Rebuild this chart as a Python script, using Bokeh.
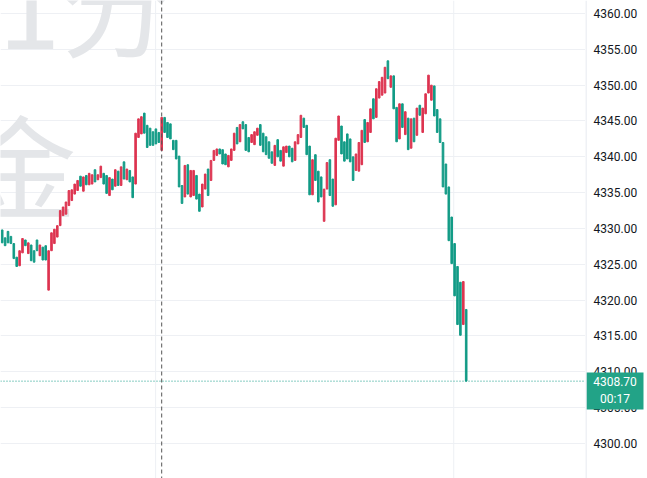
from bokeh.plotting import figure
from bokeh.layouts import row
from bokeh.models import Span, Label, Range1d, FixedTicker, ColumnDataSource
from bokeh.core.properties import value
from bokeh.embed import file_html
from bokeh.resources import INLINE

# ---- data (1-minute candles) ----
opens = [4329.8, 4328.7, 4329.6, 4328.9, 4327.9, 4326.0, 4324.8, 4326.6, 4328.4, 4326.5,
         4327.7, 4326.9, 4328.4, 4326.2, 4327.4, 4327.6, 4321.4, 4326.9, 4327.9, 4328.8,
         4330.4, 4331.8, 4332.0, 4333.2, 4333.9, 4334.8, 4335.3, 4337.3, 4335.2, 4337.4,
         4336.1, 4336.2, 4338.2, 4336.8, 4337.1, 4337.7, 4337.4, 4334.6, 4336.9, 4335.9,
         4338.0, 4336.0, 4339.3, 4336.8, 4338.1, 4337.2, 4336.2, 4342.7, 4343.2, 4346.1,
         4344.4, 4344.0, 4343.5, 4343.9, 4343.4, 4340.9, 4345.5, 4344.8, 4344.6, 4342.3,
         4342.3, 4340.1, 4336.0, 4334.4, 4338.9, 4334.4, 4334.6, 4337.4, 4334.8, 4333.0,
         4335.5, 4338.3, 4336.7, 4339.5, 4340.2, 4341.1, 4341.0, 4340.4, 4338.6, 4339.5,
         4340.9, 4344.1, 4342.1, 4344.9, 4344.5, 4342.7, 4342.0, 4341.7, 4343.0, 4344.5,
         4343.3, 4342.8, 4342.1, 4340.7, 4338.8, 4342.4, 4340.9, 4338.7, 4340.6, 4341.5,
         4341.2, 4339.5, 4341.8, 4342.7, 4345.4, 4344.4, 4341.5, 4334.7, 4340.3, 4338.0,
         4337.2, 4331.0, 4335.5, 4339.6, 4336.9, 4333.3, 4342.3, 4344.3, 4342.1, 4343.2,
         4342.5, 4340.0, 4338.1, 4338.0, 4338.9, 4345.2, 4342.1, 4343.4, 4348.1, 4345.5,
         4348.2, 4348.6, 4348.9, 4353.4, 4349.7, 4351.3, 4346.9, 4342.5, 4347.4, 4343.1,
         4345.4, 4341.2, 4345.4, 4343.0, 4347.2, 4343.4, 4346.0, 4348.9, 4347.9, 4349.9,
         4346.6, 4345.3, 4342.0, 4339.0, 4335.8, 4331.6, 4327.9, 4324.7, 4322.5, 4316.6,
         4318.7]
closes = [4328.0, 4327.6, 4328.0, 4327.9, 4325.8, 4324.7, 4326.9, 4328.6, 4327.6, 4328.0,
          4325.5, 4325.3, 4326.9, 4327.7, 4325.6, 4325.6, 4326.9, 4329.4, 4329.9, 4330.4,
          4332.5, 4333.0, 4333.7, 4335.3, 4335.4, 4336.2, 4336.7, 4335.9, 4337.2, 4336.1,
          4337.7, 4337.5, 4336.5, 4337.5, 4338.7, 4336.2, 4334.9, 4337.1, 4335.4, 4338.2,
          4336.0, 4338.6, 4336.9, 4338.3, 4336.5, 4334.3, 4343.3, 4345.3, 4345.6, 4343.3,
          4341.3, 4341.6, 4341.6, 4341.8, 4342.0, 4345.5, 4343.4, 4342.7, 4342.5, 4341.0,
          4339.7, 4335.8, 4333.5, 4338.8, 4334.8, 4338.1, 4338.1, 4334.1, 4332.4, 4336.2,
          4337.6, 4334.6, 4339.5, 4340.9, 4341.1, 4340.4, 4339.0, 4338.9, 4340.2, 4341.1,
          4343.3, 4341.8, 4344.5, 4343.9, 4340.9, 4340.7, 4343.1, 4343.5, 4344.0, 4341.6,
          4340.7, 4340.3, 4339.8, 4339.1, 4341.6, 4340.0, 4339.4, 4341.4, 4341.5, 4340.0,
          4339.3, 4342.1, 4343.1, 4345.8, 4344.1, 4340.3, 4334.7, 4339.6, 4336.7, 4333.7,
          4334.4, 4335.5, 4339.2, 4334.6, 4333.1, 4342.6, 4345.7, 4340.4, 4339.4, 4339.7,
          4339.3, 4336.7, 4340.4, 4342.0, 4343.7, 4342.0, 4344.8, 4346.7, 4345.3, 4349.5,
          4350.5, 4351.1, 4352.5, 4350.9, 4351.3, 4346.7, 4342.1, 4347.4, 4344.1, 4346.3,
          4341.0, 4345.3, 4342.1, 4346.8, 4345.8, 4346.8, 4348.8, 4351.4, 4350.0, 4345.7,
          4343.4, 4342.0, 4335.8, 4334.8, 4328.3, 4325.1, 4320.6, 4316.6, 4315.1, 4322.6,
          4308.7]
price_ticks = [4300, 4305, 4310, 4315, 4320, 4325, 4330, 4335, 4340, 4345, 4350, 4355, 4360]
price_labels = [f"{t:.2f}" for t in price_ticks]
session_break = 55          # candle index where the dashed separator sits
countdown = "00:17"
watermark_top = "1分"
watermark_mid = "金"

RED = "#dd3450"
TEAL = "#129b86"
BOX = "#22a387"
GRID = "#eef0f4"
WM = "#e4e6e9"
FONT = "Roboto"

idx = list(range(len(opens)))
src = ColumnDataSource(dict(
    x=idx,
    top=[max(o, c) for o, c in zip(opens, closes)],
    bottom=[min(o, c) for o, c in zip(opens, closes)],
    color=[RED if c > o else TEAL for o, c in zip(opens, closes)],
))
last_price = closes[-1]

H = 478
MAIN_W, SCALE_W = 585, 62
PX_PER_BAR = 2.9
x0 = -0.586
yr = Range1d(4295.116, 4361.814)
PX = (yr.end - yr.start) / H          # price units per screen pixel

p = figure(width=MAIN_W, height=H, output_backend="svg", toolbar_location=None,
           x_range=Range1d(x0, x0 + MAIN_W / PX_PER_BAR), y_range=yr,
           x_axis_location=None, y_axis_location=None,
           min_border_left=0, min_border_top=0, min_border_bottom=0, min_border_right=0)
p.outline_line_color = None
p.background_fill_color = "white"
p.border_fill_color = "white"

# watermark
p.add_layout(Label(x=172, y=479, x_units="screen", y_units="screen", text=watermark_top,
                   text_align="right", text_baseline="middle", text_font="Noto Sans CJK SC",
                   text_font_size="112px", text_color=WM, level="underlay"))
p.add_layout(Label(x=20, y=317, x_units="screen", y_units="screen", text=watermark_mid,
                   text_align="center", text_baseline="middle", text_font="Noto Sans CJK SC",
                   text_font_size="112px", text_color=WM, level="underlay"))

# grid
p.ygrid.ticker = FixedTicker(ticks=price_ticks)
p.ygrid.grid_line_color = GRID
p.xgrid.visible = False
for loc in (52.9, 155.7):
    p.add_layout(Span(location=loc, dimension="height", line_color=GRID, line_width=1, level="underlay"))

p.add_layout(Span(location=session_break, dimension="height", line_color="#555555",
                  line_dash="4 3", line_width=1))

p.vbar(x="x", top="top", bottom="bottom", width=0.55, color="color", source=src)

p.add_layout(Span(location=last_price, dimension="width", line_color=TEAL,
                  line_dash="1 2", line_width=1))

# ---- price scale (right) ----
s = figure(width=SCALE_W, height=H, output_backend="svg", toolbar_location=None,
           x_range=Range1d(0, SCALE_W), y_range=yr,
           x_axis_location=None, y_axis_location=None,
           min_border_left=0, min_border_top=0, min_border_bottom=0, min_border_right=0)
s.outline_line_color = None
s.xgrid.visible = False
s.ygrid.visible = False
s.background_fill_color = "white"
s.border_fill_color = "white"
s.add_layout(Span(location=0.5, dimension="height", line_color="#e0e3eb", line_width=1))
s.text(x=[8] * len(price_ticks), y=price_ticks, text=price_labels,
       text_align="left", text_baseline="middle", text_font=value(FONT),
       text_font_size="12px", text_color="#131722")

# last-price tag
s.quad(left=[1], right=[58], top=[last_price + 8.7 * PX], bottom=[last_price - 28.3 * PX],
       fill_color=BOX, line_color=None)
s.text(x=[29.5, 29.5], y=[last_price, last_price], text=[f"{last_price:.2f}", countdown],
       y_offset=[0, 18], text_align="center", text_baseline="middle",
       text_font=value(FONT), text_font_size="12px", text_color="white")

layout = row(p, s, spacing=0)
open("out.html", "w").write(file_html(layout, INLINE))
